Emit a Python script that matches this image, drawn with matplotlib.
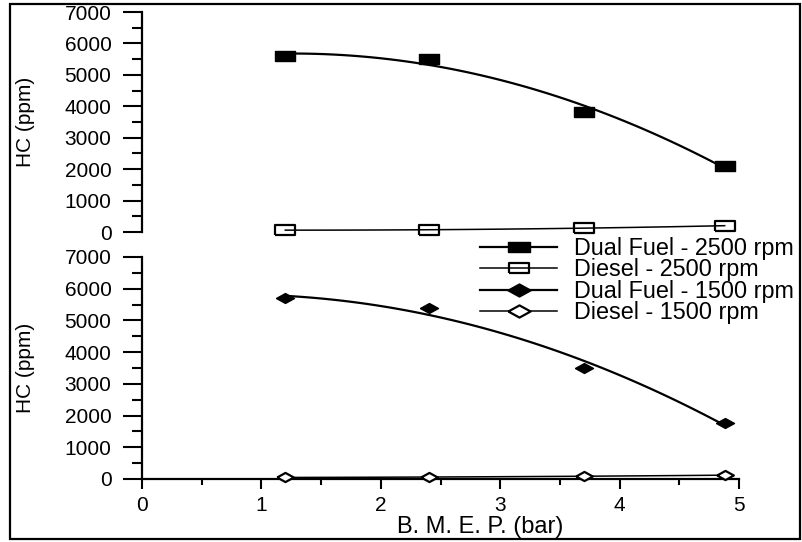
import matplotlib
matplotlib.use("Agg")
import matplotlib.pyplot as plt
import numpy as np
from matplotlib.lines import Line2D
from matplotlib.patches import Rectangle
from matplotlib.ticker import MultipleLocator

plt.rcParams["font.family"] = ["Liberation Sans", "DejaVu Sans"]

# B.M.E.P. (bar) and HC (ppm)
bmep = [1.2, 2.4, 3.7, 4.88]
hc_dual_2500 = [5610, 5510, 3830, 2100]
hc_diesel_2500 = [60, 70, 125, 200]
hc_dual_1500 = [5700, 5390, 3510, 1770]
hc_diesel_1500 = [50, 60, 90, 120]

labels = ["Dual Fuel - 2500 rpm", "Diesel - 2500 rpm",
          "Dual Fuel - 1500 rpm", "Diesel - 1500 rpm"]

# stretched marker shapes (the original figure is widened horizontally)
RECT = [(-1, -0.48), (1, -0.48), (1, 0.48), (-1, 0.48), (-1, -0.48)]
DIAM = [(-1, 0), (0, 0.55), (1, 0), (0, -0.55), (-1, 0)]

W, H = 802, 542
fig = plt.figure(figsize=(W / 100, H / 100), dpi=100)


def fax(x0, y_top, x1, y_bot):
    return fig.add_axes([x0 / W, 1 - y_bot / H, (x1 - x0) / W, (y_bot - y_top) / H])


ax1 = fax(142, 12, 739, 232)
ax2 = fax(142, 257, 739, 479)

TICK_FS = 15


def style(ax, show_x):
    ax.set_xlim(0, 5)
    ax.set_ylim(0, 7000)
    for s in ["top", "right"]:
        ax.spines[s].set_visible(False)
    ax.spines["left"].set_linewidth(1.6)
    ax.spines["bottom"].set_linewidth(1.6)
    ax.yaxis.set_major_locator(MultipleLocator(1000))
    ax.yaxis.set_minor_locator(MultipleLocator(500))
    ax.tick_params(axis="y", which="major", length=14, width=1.5,
                   direction="out", labelsize=TICK_FS, pad=8)
    ax.tick_params(axis="y", which="minor", length=7.5, width=1.5,
                   direction="out")
    if show_x:
        ax.xaxis.set_major_locator(MultipleLocator(1))
        ax.xaxis.set_minor_locator(MultipleLocator(0.5))
        ax.tick_params(axis="x", which="major", length=7, width=1.5,
                       direction="out", labelsize=TICK_FS, pad=5)
        ax.tick_params(axis="x", which="minor", length=4, width=1.5,
                       direction="out")
    else:
        ax.spines["bottom"].set_visible(False)
        ax.set_xticks([])
    ax.set_ylabel("HC (ppm)", fontsize=15)
    ax.yaxis.set_label_coords(-0.18, 0.5)


def series(ax, y, marker, ms, face, lw, mew):
    x = np.array(bmep)
    coef = np.polyfit(x, y, 2)
    xs = np.linspace(x[0], x[-1], 100)
    ax.plot(xs, np.polyval(coef, xs), color="black", lw=lw, clip_on=False,
            zorder=2)
    ax.plot(x, y, ls="none", marker=marker, ms=ms, mfc=face, mec="black",
            mew=mew, clip_on=False, zorder=3)


style(ax1, False)
style(ax2, True)

series(ax1, hc_dual_2500, RECT, 15, "black", 1.6, 1.0)
series(ax1, hc_diesel_2500, RECT, 14, "none", 1.1, 1.6)
series(ax2, hc_dual_1500, DIAM, 13, "black", 1.6, 1.0)
series(ax2, hc_diesel_1500, DIAM, 12, "white", 1.1, 1.6)

ax2.set_xlabel("B. M. E. P. (bar)", fontsize=17)
ax2.xaxis.set_label_coords(0.566, -0.168)

handles = [
    Line2D([], [], color="black", lw=1.6, marker=RECT, ms=16, mfc="black", mec="black"),
    Line2D([], [], color="black", lw=1.1, marker=RECT, ms=15, mfc="none", mec="black", mew=1.6),
    Line2D([], [], color="black", lw=1.6, marker=DIAM, ms=17, mfc="black", mec="black"),
    Line2D([], [], color="black", lw=1.1, marker=DIAM, ms=16, mfc="white", mec="black", mew=1.6),
]
fig.legend(handles, labels, loc="upper left",
           bbox_to_anchor=(480 / W, 1 - 237 / H), frameon=False,
           fontsize=16.8, borderpad=0, borderaxespad=0, handlelength=3.3,
           handletextpad=0.75, labelspacing=-0.07)

fig.patches.append(Rectangle((10 / W, 1 - 539 / H), 790 / W, 535 / H,
                             transform=fig.transFigure, fill=False,
                             edgecolor="black", lw=1.6))

fig.savefig("out.png", dpi=100)
